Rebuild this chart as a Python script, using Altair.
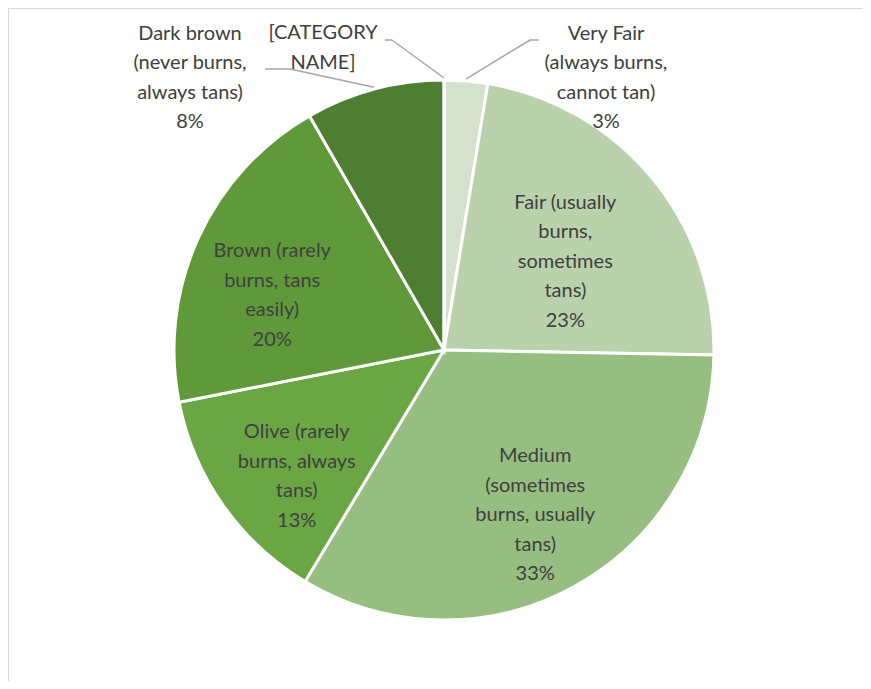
import altair as alt
import pandas as pd

# ---- data ----
categories = [
    "Very Fair (always burns, cannot tan)",
    "Fair (usually burns, sometimes tans)",
    "Medium (sometimes burns, usually tans)",
    "Olive (rarely burns, always tans)",
    "Brown (rarely burns, tans easily)",
    "Dark brown (never burns, always tans)",
    "[CATEGORY NAME]",
]
shares = [0.026, 0.227, 0.333, 0.133, 0.198, 0.083, 0.0]
wrapped_labels = [
    "Very Fair\n(always burns,\ncannot tan)",
    "Fair (usually\nburns,\nsometimes\ntans)",
    "Medium\n(sometimes\nburns, usually\ntans)",
    "Olive (rarely\nburns, always\ntans)",
    "Brown (rarely\nburns, tans\neasily)",
    "Dark brown\n(never burns,\nalways tans)",
    "[CATEGORY\nNAME]",
]
colors = ["#d4e2cd", "#b9d2ac", "#96be80", "#6aa744", "#5f993a", "#4e7e31", "#4e7e31"]

df = pd.DataFrame({
    "idx": list(range(len(categories))),
    "category": categories,
    "share": shares,
    "wrapped": wrapped_labels,
})

# ---- layout / style ----
W, H = 855, 673
CX, CY, R = 436, 342, 270
FONT = "Lato"
FS = 20
LH = 29.5
TXT = "#404040"
LEADER = "#a6a6a6"
TAU = 6.283185307179586


def n_lines(i):
    return wrapped_labels[i].count("\n") + 1 + (1 if shares[i] > 0 else 0)


theta_scale = alt.Scale(domain=[0, 1], range=[0, TAU])

base = (
    alt.Chart(df)
    .transform_window(cum="sum(share)", sort=[alt.SortField("idx")], frame=[None, 0])
    .transform_calculate(
        start="datum.cum - datum.share",
        mid="datum.cum - datum.share / 2",
        label="datum.wrapped + (datum.share > 0 ? '\\n' + format(datum.share, '.0%') : '')",
    )
)

arcs = base.mark_arc(radius=R, stroke="white", strokeWidth=3).encode(
    theta=alt.Theta("start:Q", scale=theta_scale, stack=False),
    theta2="cum:Q",
    color=alt.Color("category:N", scale=alt.Scale(domain=categories, range=colors), legend=None),
    order=alt.Order("idx:Q"),
    x=alt.value(CX),
    y=alt.value(CY),
)

text_style = dict(font=FONT, fontSize=FS, color=TXT, lineBreak="\n", lineHeight=LH,
                  align="center", baseline="middle")

# inside labels: idx -> (radius, dx, dy) for the block centre
inside = {1: (180, -17, 27), 2: (180, 4, 8), 3: (180, 0, 23), 4: (180, -8, 20)}
layers = [arcs]
for i, (rad, dx, dy) in inside.items():
    shift = -(n_lines(i) - 1) * LH / 2
    layers.append(
        base.transform_filter(alt.datum.idx == i)
        .mark_text(radius=rad, dx=dx, dy=dy + shift, **text_style)
        .encode(theta=alt.Theta("mid:Q", scale=theta_scale, stack=False),
                text="label:N", x=alt.value(CX), y=alt.value(CY))
    )

# outside labels: idx -> (block centre x, y, elbow x, elbow y, end x, end y)
outside = {
    0: (598, 70, 522, 32, 531, 32),
    6: (315, 40, 384, 32, 377, 32),
    5: (182, 70, 282, 61, 257, 61),
}
for i, (tx, ty, ex, ey, fx, fy) in outside.items():
    sel = base.transform_filter(alt.datum.idx == i)
    shift = -(n_lines(i) - 1) * LH / 2
    layers.append(
        sel.transform_calculate(
            lx=f"{CX} + {R + 2} * sin({TAU} * datum.mid)",
            ly=f"{CY} - {R + 2} * cos({TAU} * datum.mid)",
        )
        .mark_rule(color=LEADER, strokeWidth=1.5)
        .encode(x=alt.X("lx:Q", scale=None, axis=None),
                y=alt.Y("ly:Q", scale=None, axis=None),
                x2=alt.value(ex), y2=alt.value(ey))
    )
    layers.append(
        sel.mark_rule(color=LEADER, strokeWidth=1.5)
        .encode(x=alt.value(ex), y=alt.value(ey), x2=alt.value(fx), y2=alt.value(fy))
    )
    layers.append(
        sel.mark_text(**text_style).encode(text="label:N", x=alt.value(tx), y=alt.value(ty + shift))
    )

# chart-area border (top and left edges visible)
one = base.transform_filter(alt.datum.idx == 0)
layers.append(one.mark_rule(color="#d9d9d9", strokeWidth=1)
              .encode(x=alt.value(0), x2=alt.value(W), y=alt.value(0.5), y2=alt.value(0.5)))
layers.append(one.mark_rule(color="#d9d9d9", strokeWidth=1)
              .encode(x=alt.value(0.5), x2=alt.value(0.5), y=alt.value(0), y2=alt.value(H)))

chart = (
    alt.layer(*layers)
    .properties(width=W, height=H, padding=0, autosize=alt.AutoSizeParams(type="none"))
    .configure_view(stroke=None)
)

chart.save("out.html", embed_options={"renderer": "svg", "actions": False})
